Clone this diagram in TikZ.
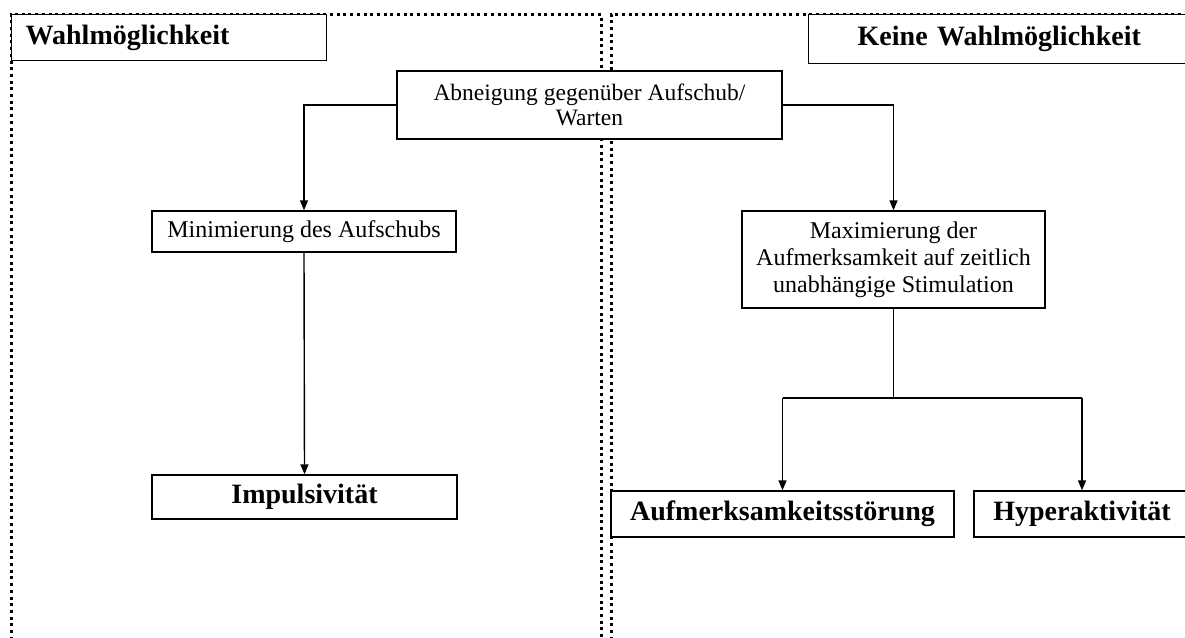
\documentclass[tikz,border=0pt]{standalone}
\usepackage{fontspec}
\setmainfont{Liberation Serif}
\usetikzlibrary{arrows.meta}
\tikzset{
  panel/.style={line width=3pt, dash pattern=on 3pt off 3.7pt},
  box/.style={draw, line width=1.4pt, fill=white, rectangle, inner sep=0pt, align=center,
    font=\fontsize{24pt}{27pt}\selectfont},
  bbox/.style={box, font=\bfseries\fontsize{28pt}{32pt}\selectfont},
  link/.style={line width=1.4pt},
  arr/.style={link, -{Triangle[length=10pt,width=8pt]}},
}
\begin{document}
\begin{tikzpicture}[x=1pt,y=-1pt]
\useasboundingbox (0,0) rectangle (1185,637);
\clip (0,0) rectangle (1185,637);
% panels
\draw[panel] (11,700) -- (11,14) -- (601,14) -- (601,700);
\draw[panel] (611,700) -- (611,14) -- (1250,14);
% titles
\node[bbox, anchor=north west, minimum width=315pt, minimum height=46pt,
  text width=287pt, inner xsep=14pt, align=left] (wahl) at (11,14) {Wahlmöglichkeit};
\node[bbox, anchor=north west, minimum width=390pt, minimum height=49pt,
  text width=292pt, inner xsep=49pt, align=left] (keine) at (808,14) {Keine Wahlmöglichkeit};
% boxes
\node[box, minimum width=385pt, minimum height=68pt, font=\fontsize{23.5pt}{25.5pt}\selectfont]
  (abn) at (589.5,105) {Abneigung gegenüber Aufschub/\\Warten};
\node[box, minimum width=304pt, minimum height=41pt] (mini) at (304,231.5) {Minimierung des Aufschubs};
\node[bbox, minimum width=305pt, minimum height=44pt] (impu) at (304.5,497) {Impulsivität};
\node[box, minimum width=303pt, minimum height=97pt] (maxi) at (893.5,259.5)
  {Maximierung der\\Aufmerksamkeit auf zeitlich\\unabhängige Stimulation};
\node[bbox, minimum width=343pt, minimum height=46pt] (aufm) at (782.5,514) {Aufmerksamkeitsstörung};
\node[bbox, minimum width=216pt, minimum height=46pt] (hyper) at (1082,514) {Hyperaktivität};
% connectors
\draw[arr] (abn.west) -| (mini.north);
\draw[arr] (abn.east) -| (maxi.north);
\draw[arr] (mini.south) -- (impu.north);
\coordinate (j) at (maxi.south |- 0,398);
\coordinate (bl) at (aufm.north |- j);
\coordinate (br) at (hyper.north |- j);
\draw[link] (maxi.south) -- (j);
\draw[link] (bl) -- (br);
\draw[arr] (bl) -- (aufm.north);
\draw[arr] (br) -- (hyper.north);
\end{tikzpicture}
\end{document}
